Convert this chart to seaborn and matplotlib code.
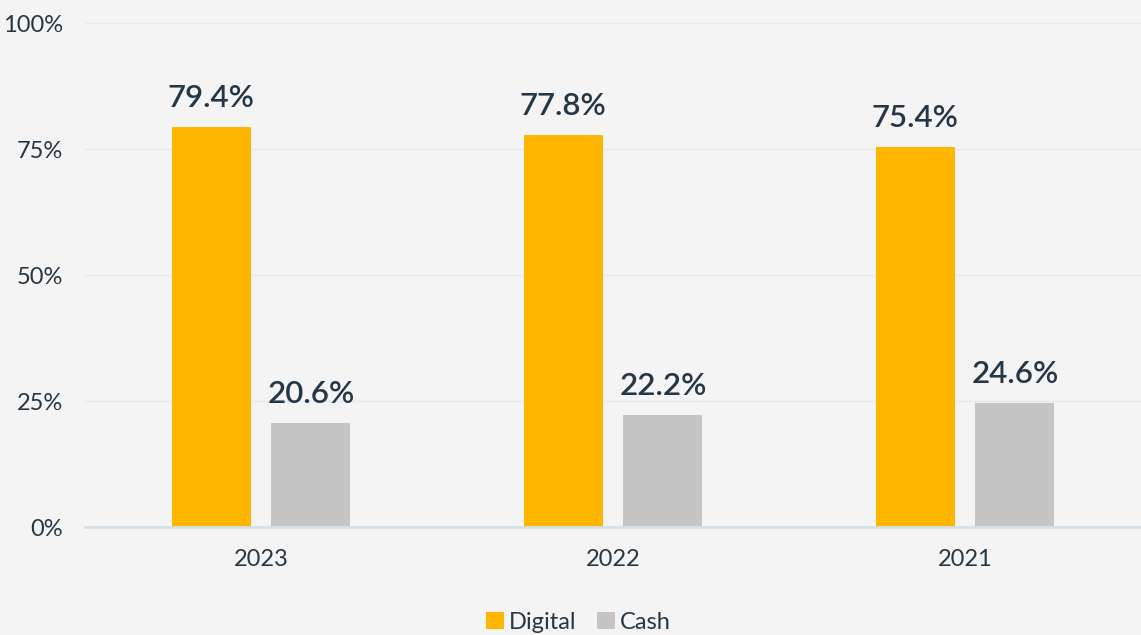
import matplotlib
matplotlib.use("Agg")
import matplotlib.pyplot as plt
import seaborn as sns
import pandas as pd
from matplotlib.patches import Patch

years = ["2023", "2022", "2021"]
digital = [79.4, 77.8, 75.4]
cash = [20.6, 22.2, 24.6]
series_names = ["Digital", "Cash"]
y_ticks = [0, 25, 50, 75, 100]
y_tick_labels = ["0%", "25%", "50%", "75%", "100%"]

df = pd.DataFrame({
    "year": years * 2,
    "value": digital + cash,
    "type": [series_names[0]] * 3 + [series_names[1]] * 3,
})

BG = "#F4F4F4"
TXT = "#253746"
colors = {"Digital": "#FFB600", "Cash": "#C4C5C4"}

sns.set_theme(style="white")
plt.rcParams["font.family"] = ["Lato", "DejaVu Sans"]

fig = plt.figure(figsize=(11.41, 6.35), dpi=100, facecolor=BG)
ax = fig.add_axes([85 / 1141, 1 - 527 / 635, 1 - 85 / 1141, (527 - 23) / 635])
ax.set_facecolor(BG)

sns.barplot(data=df, x="year", y="value", hue="type", order=years,
            hue_order=series_names, palette=colors, width=0.568, gap=0.21,
            ax=ax, legend=False, saturation=1, edgecolor="none")

for cont in ax.containers:
    labels = [f"{v:.1f}%" for v in cont.datavalues]
    ax.bar_label(cont, labels=labels, padding=11, fontsize=22.5, color=TXT,
                 fontweight="semibold")

ax.set_xlim(-0.5, 2.5)
ax.set_ylim(0, 100)
ax.set_yticks(y_ticks)
ax.set_yticklabels(y_tick_labels)
ax.grid(axis="y", color="#E6E9ED", linewidth=1)
ax.set_axisbelow(True)
for s in ["left", "right", "top"]:
    ax.spines[s].set_visible(False)
ax.spines["bottom"].set_color("#D5E0E9")
ax.spines["bottom"].set_linewidth(2)
ax.tick_params(axis="both", length=0, labelsize=17, colors=TXT)
ax.tick_params(axis="y", pad=16)
ax.tick_params(axis="x", pad=16)
ax.set_xlabel("")
ax.set_ylabel("")

handles = [Patch(facecolor=colors[n], edgecolor="none", label=n) for n in series_names]
fig.legend(handles=handles, loc="lower center", bbox_to_anchor=(0.507, -0.03),
           ncol=2, frameon=False, fontsize=17, labelcolor=TXT,
           handlelength=0.75, handleheight=0.75, handletextpad=0.2,
           columnspacing=0.9)

fig.savefig("out.png", dpi=100, facecolor=BG)
